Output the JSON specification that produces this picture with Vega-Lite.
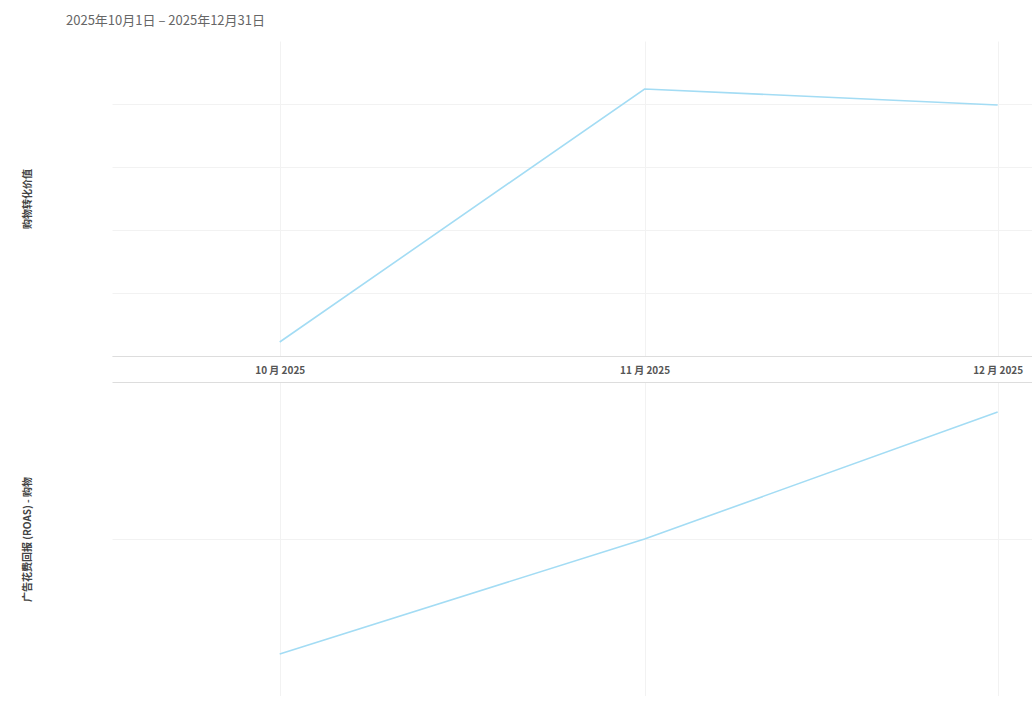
{
  "$schema": "https://vega.github.io/schema/vega-lite/v6.json",
  "padding": {"left": 22, "top": 15, "right": 0, "bottom": 0},
  "background": "#ffffff",
  "title": {
    "text": "2025年10月1日 – 2025年12月31日",
    "anchor": "start",
    "frame": "bounds",
    "fontSize": 13,
    "fontWeight": "normal",
    "color": "#666666",
    "font": "Noto Sans CJK SC",
    "dx": 44,
    "offset": 13
  },
  "datasets": {
    "shopping": [
      {"month": "2025-10-01", "value": 2222},
      {"month": "2025-11-01", "value": 42381},
      {"month": "2025-12-01", "value": 39841}
    ],
    "roas": [
      {"month": "2025-10-01", "value": 2.68},
      {"month": "2025-11-01", "value": 10.0},
      {"month": "2025-12-01", "value": 18.09}
    ]
  },
  "spacing": 7,
  "vconcat": [
    {
      "width": 920,
      "height": 315,
      "data": {"name": "shopping"},
      "mark": {"type": "line", "color": "#a3dcf4", "strokeWidth": 1.6},
      "encoding": {
        "x": {
          "field": "month",
          "type": "temporal",
          "scale": {
            "type": "utc",
            "domain": [
              {"year": 2025, "month": 9, "date": 16, "hours": 18, "utc": true},
              {"year": 2025, "month": 12, "date": 3, "hours": 22, "utc": true}
            ]
          },
          "axis": {
            "title": null,
            "values": [
              {"year": 2025, "month": 10, "date": 1, "utc": true},
              {"year": 2025, "month": 11, "date": 1, "utc": true},
              {"year": 2025, "month": 12, "date": 1, "utc": true}
            ],
            "format": "%-m 月 %Y",
            "ticks": false,
            "labelPadding": 9,
            "labelFontSize": 10,
            "labelFontWeight": "bold",
            "labelColor": "#555555",
            "labelFont": "Noto Sans CJK SC",
            "domainColor": "#dddddd",
            "gridColor": "#f2f2f2",
            "labelFlush": false
          }
        },
        "y": {
          "field": "value",
          "type": "quantitative",
          "scale": {"domain": [0, 50000], "nice": false},
          "axis": {
            "title": "购物转化价值",
            "titleFont": "Noto Sans CJK SC",
            "titleFontSize": 10,
            "titleFontWeight": "bold",
            "titleColor": "#444444",
            "titlePadding": 80,
            "labels": false,
            "ticks": false,
            "domain": false,
            "values": [0, 10000, 20000, 30000, 40000],
            "gridColor": "#f2f2f2"
          }
        }
      }
    },
    {
      "width": 920,
      "height": 314,
      "data": {"name": "roas"},
      "mark": {"type": "line", "color": "#a3dcf4", "strokeWidth": 1.6},
      "encoding": {
        "x": {
          "field": "month",
          "type": "temporal",
          "scale": {
            "type": "utc",
            "domain": [
              {"year": 2025, "month": 9, "date": 16, "hours": 18, "utc": true},
              {"year": 2025, "month": 12, "date": 3, "hours": 22, "utc": true}
            ]
          },
          "axis": {
            "title": null,
            "values": [
              {"year": 2025, "month": 10, "date": 1, "utc": true},
              {"year": 2025, "month": 11, "date": 1, "utc": true},
              {"year": 2025, "month": 12, "date": 1, "utc": true}
            ],
            "labels": false,
            "ticks": false,
            "domainColor": "#eeeeee",
            "gridColor": "#f2f2f2"
          }
        },
        "y": {
          "field": "value",
          "type": "quantitative",
          "scale": {"domain": [0, 20], "nice": false},
          "axis": {
            "title": "广告花费回报 (ROAS) - 购物",
            "titleFont": "Noto Sans CJK SC",
            "titleFontSize": 10,
            "titleFontWeight": "bold",
            "titleColor": "#444444",
            "titlePadding": 80,
            "labels": false,
            "ticks": false,
            "domain": false,
            "values": [0, 10, 20],
            "gridColor": {"condition": {"test": "datum.value == 20", "value": "#dddddd"}, "value": "#f2f2f2"}
          }
        }
      }
    }
  ],
  "config": {
    "view": {"stroke": null},
    "font": "Noto Sans CJK SC"
  }
}
